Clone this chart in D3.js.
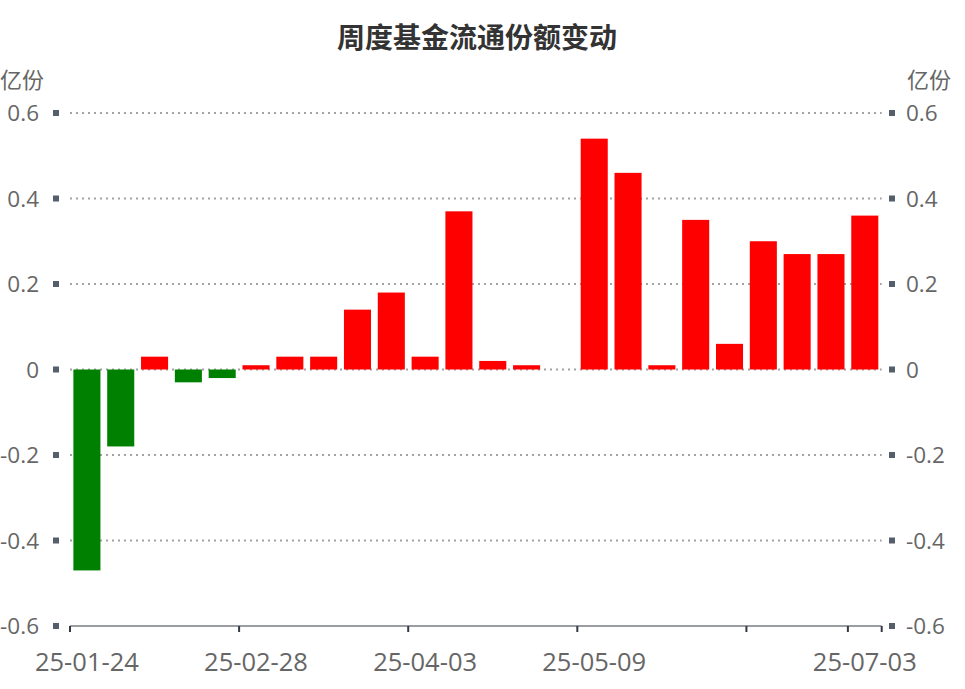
<!DOCTYPE html>
<html><head><meta charset="utf-8">
<script src="https://cdn.jsdelivr.net/npm/d3@7/dist/d3.min.js"></script>
<style>body{margin:0;background:#fff}svg{display:block}</style>
</head><body>
<script>
const title = "周度基金流通份额变动";
const unitName = "亿份";
const categories = ["25-01-24","25-01-27","25-02-07","25-02-14","25-02-21","25-02-28","25-03-07","25-03-14","25-03-21","25-03-28","25-04-03","25-04-11","25-04-18","25-04-25","25-04-30","25-05-09","25-05-16","25-05-23","25-05-30","25-06-06","25-06-13","25-06-20","25-06-27","25-07-03"];
const values = [-0.47,-0.18,0.03,-0.03,-0.02,0.01,0.03,0.03,0.14,0.18,0.03,0.37,0.02,0.01,0,0.54,0.46,0.01,0.35,0.06,0.30,0.27,0.27,0.36];
const yTicks = [-0.6,-0.4,-0.2,0,0.2,0.4,0.6];
const labelIdx = [0,5,10,15,23];
const tickIdx = [0,5,10,15,20,23];

(function(){
const W = 965, H = 689;
const mLeft = 70, mRight = 881.7, mTop = 113, mBottom = 626;
const cjk = "'Noto Sans CJK SC','Noto Sans',sans-serif";
const num = "'Open Sans','Noto Sans',sans-serif";

const svg = d3.select("body").append("svg").attr("width", W).attr("height", H);

const x = d3.scaleBand().domain(categories).range([mLeft, mRight]).paddingInner(0.2).paddingOuter(0.1);
const xb = d3.scaleBand().domain(categories).range([mLeft, mRight]);
const y = d3.scaleLinear().domain([-0.6, 0.6]).range([mBottom, mTop]);
const fmt = d => d === 0 ? "0" : (d < 0 ? "-" : "") + Math.abs(d).toFixed(1);

svg.append("text").attr("x", 477).attr("y", 48).attr("text-anchor", "middle")
  .attr("font-family", cjk).attr("font-weight", "bold").attr("font-size", 28).attr("fill", "#333").text(title);

svg.append("g").selectAll("line").data(yTicks.filter(d => d !== -0.6)).join("line")
  .attr("x1", mLeft).attr("x2", mRight).attr("y1", d => y(d)).attr("y2", d => y(d))
  .attr("stroke", "#a3a3a3").attr("stroke-width", 2).attr("stroke-dasharray", "2,4");

svg.append("g").selectAll("rect").data(values.map((v, i) => ({c: categories[i], v}))).join("rect")
  .attr("x", d => x(d.c)).attr("width", x.bandwidth())
  .attr("y", d => y(Math.max(0, d.v))).attr("height", d => Math.abs(y(d.v) - y(0)))
  .attr("fill", d => d.v >= 0 ? "#ff0000" : "#008000");

svg.append("line").attr("x1", mLeft).attr("x2", mRight).attr("y1", mBottom).attr("y2", mBottom)
  .attr("stroke", "#9a9ea3").attr("stroke-width", 2);
const tickXs = tickIdx.map(i => xb(categories[i])).concat([mRight]);
svg.append("g").selectAll("line").data(tickXs).join("line")
  .attr("x1", d => d).attr("x2", d => d).attr("y1", mBottom).attr("y2", mBottom + 6)
  .attr("stroke", "#333a44").attr("stroke-width", 2);
svg.append("g").selectAll("text").data(labelIdx).join("text")
  .attr("x", i => xb(categories[i]) + xb.bandwidth() / 2).attr("y", 671)
  .attr("text-anchor", "middle").attr("font-family", num).attr("font-size", 25.5).attr("fill", "#666")
  .text(i => categories[i]);

[{sx: 53, lx: 39, anchor: "end"}, {sx: 889, lx: 906, anchor: "start"}].forEach(s => {
  svg.append("g").selectAll("rect").data(yTicks).join("rect")
    .attr("x", s.sx).attr("y", d => y(d) - 3).attr("width", 6).attr("height", 6).attr("fill", "#555e6b");
  svg.append("g").selectAll("text").data(yTicks).join("text")
    .attr("x", s.lx).attr("y", d => y(d)).attr("dy", "0.36em").attr("text-anchor", s.anchor)
    .attr("font-family", num).attr("font-size", 22.5).attr("fill", "#666").text(fmt);
});
svg.append("text").attr("x", 0).attr("y", 88).attr("font-family", cjk).attr("font-size", 22).attr("fill", "#666").text(unitName);
svg.append("text").attr("x", 951).attr("y", 88).attr("text-anchor", "end").attr("font-family", cjk).attr("font-size", 22).attr("fill", "#666").text(unitName);
})();
</script>
</body></html>
